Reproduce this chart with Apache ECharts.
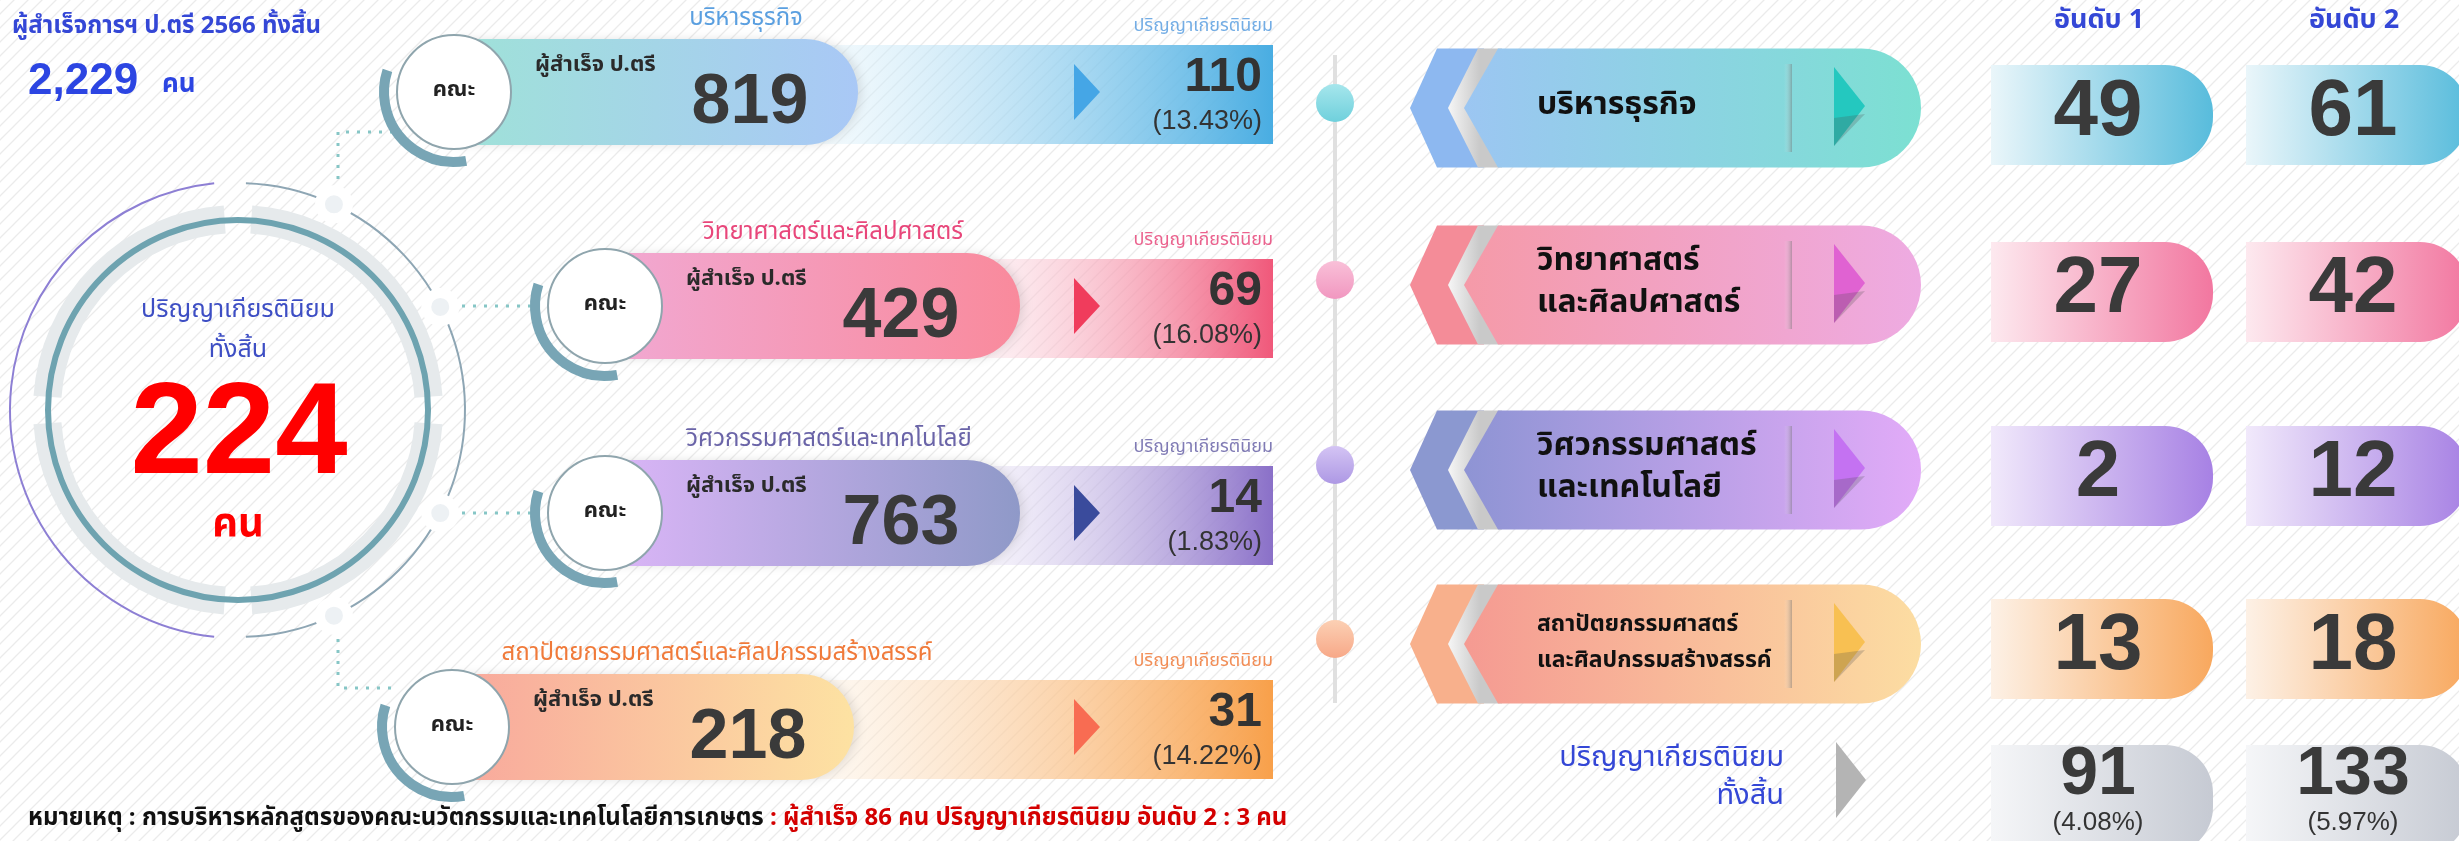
<!DOCTYPE html>
<html lang="th">
  <head>
    <meta charset="UTF-8" />
    <title>ปริญญาเกียรตินิยม 2566</title>
    <style>
      html, body { margin: 0; padding: 0; background: #fff; }
      #main { width: 2459px; height: 841px; }
    </style>
  </head>
  <body>
    <div id="main"></div>
    <script src="https://cdn.jsdelivr.net/npm/echarts@6/dist/echarts.min.js"></script>
    <script>
      // ---- data ----
      const faculties = ['บริหารธุรกิจ', 'วิทยาศาสตร์และศิลปศาสตร์', 'วิศวกรรมศาสตร์และเทคโนโลยี', 'สถาปัตยกรรมศาสตร์และศิลปกรรมสร้างสรรค์']
      const facultyTags = ['บริหารธุรกิจ', 'วิทยาศาสตร์\nและศิลปศาสตร์', 'วิศวกรรมศาสตร์\nและเทคโนโลยี', 'สถาปัตยกรรมศาสตร์\nและศิลปกรรมสร้างสรรค์']
      const graduates = [819, 429, 763, 218]
      const honors = [110, 69, 14, 31]
      const honorsPct = ['13.43%', '16.08%', '1.83%', '14.22%']
      const rank1 = [49, 27, 2, 13]
      const rank2 = [61, 42, 12, 18]
      const rankHeaders = ['อันดับ 1', 'อันดับ 2']
      const rankTotals = [91, 133]
      const rankTotalPct = ['4.08%', '5.97%']
      const totalGraduates = 2229
      const totalHonors = 224
      const noteText = ['หมายเหตุ : การบริหารหลักสูตรของคณะนวัตกรรมและเทคโนโลยีการเกษตร', ' : ผู้สำเร็จ 86 คน ปริญญาเกียรตินิยม อันดับ 2 : 3 คน']

      // ---- layout (pixel space, axes map 1:1) ----
      const W = 2459, H = 841
      const barRowY = [92, 306, 513, 727]
      const barCircleX = [454, 605, 605, 452]
      const barPillEnd = [858, 1020, 1020, 854]
      const barLabelX = [746, 833, 829, 717]
      const tagRowY = [108, 285, 470, 644]
      const boxRowY = [115, 292, 476, 649, 795]
      const boxColX = [1991, 2246]

      const TH = '"Noto Sans Thai", "Noto Sans", "DejaVu Sans", sans-serif'
      const NUM = '"Liberation Sans", Arial, sans-serif'
      const BLUE = '#3447d6'
      const D = Math.PI / 180

      const barColors = [
        { pill: ['#9fe2d8', '#a9c8f6'], rect: ['rgba(236,248,253,0.4)', '#49ade2'], arrow: '#45a6e6', label: '#5a9fe0' },
        { pill: ['#f1a9d3', '#f98a9c'], rect: ['rgba(253,236,241,0.4)', '#f0587a'], arrow: '#f03c5c', label: '#e8467a' },
        { pill: ['#dcb6f8', '#8f99c8'], rect: ['rgba(243,239,251,0.4)', '#8a70c8'], arrow: '#3a4b9c', label: '#6a64a8' },
        { pill: ['#f8a79c', '#fde2a2'], rect: ['rgba(253,244,232,0.4)', '#f8a04a'], arrow: '#f86c52', label: '#f07a3a' }
      ]
      const tagColors = [
        { chev: '#8db8f0', pill: ['#9cc6f2', '#7ce0d2'], tri: '#24c8bf', dot: ['#a6e6ec', '#6fd0dc'] },
        { chev: '#f48c98', pill: ['#f59aa8', '#eeabe2'], tri: '#e062d2', dot: ['#f9c0d8', '#f197c0'] },
        { chev: '#8b98d0', pill: ['#8e94d4', '#e2abf8'], tri: '#c472f2', dot: ['#d4c4f4', '#ad98e4'] },
        { chev: '#f8b08c', pill: ['#f59a92', '#fcdda2'], tri: '#f8c052', dot: ['#fcd0b4', '#f7a888'] }
      ]
      const boxColors = [
        ['#eaf6fa', '#58bcdc'],
        ['#fde9ef', '#f277a0'],
        ['#f1e9fb', '#a781e4'],
        ['#fdf1e6', '#f8a85e'],
        ['#f5f6f8', '#c6cad3']
      ]

      const lg = (x1, x2, c) =>
        new echarts.graphic.LinearGradient(x1, 0, x2, 0, [{ offset: 0, color: c[0] }, { offset: 1, color: c[1] }], true)

      // pill with rounded right end, optional pointed left notch
      function pill(xL, xR, cy, h, notch) {
        const r = h / 2, pts = []
        if (notch) pts.push([xL, cy])
        pts.push([xL + notch, cy - r])
        for (let k = 0; k <= 24; k++) {
          const a = -Math.PI / 2 + (Math.PI * k) / 24
          pts.push([xR - r + r * Math.cos(a), cy + r * Math.sin(a)])
        }
        pts.push([xL + notch, cy + r])
        return pts
      }

      const txt = (text, x, y, o) => ({
        type: 'text',
        style: Object.assign({ text, x, y, fill: '#333', fontFamily: TH, fontSize: 20, align: 'left', verticalAlign: 'middle' }, o)
      })

      // ---- middle bars ----
      function renderBar(params, api) {
        const i = api.value(0)
        const [cx, cy] = api.coord([barCircleX[i], barRowY[i]])
        const endX = api.coord([barPillEnd[i], 0])[0]
        const rightX = api.coord([1273, 0])[0]
        const c = barColors[i]
        return {
          type: 'group',
          children: [
            { type: 'rect', shape: { x: endX - 60, y: cy - 47, width: rightX - endX + 60, height: 99 }, style: { fill: lg(endX - 60, rightX, c.rect) } },
            { type: 'polygon', shape: { points: pill(cx, endX, cy, 106, 0) }, style: { fill: lg(cx, endX, c.pill), shadowBlur: 10, shadowColor: 'rgba(0,0,0,0.10)', shadowOffsetX: 4 } },
            { type: 'arc', shape: { cx, cy, r: 70, startAngle: 80 * D, endAngle: 198 * D, clockwise: true }, style: { stroke: '#78a5b5', lineWidth: 10, fill: 'none' } },
            { type: 'circle', shape: { cx, cy, r: 57 }, style: { fill: '#fff', stroke: '#8fa5ad', lineWidth: 2 } },
            txt('คณะ', cx, cy, { align: 'center', fontSize: 22, fontWeight: 'bold', fill: '#222' }),
            txt(faculties[i], barLabelX[i], cy - 72, { align: 'center', fontSize: 24, fill: c.label }),
            txt('ปริญญาเกียรตินิยม', rightX, cy - 65, { align: 'right', fontSize: 18, fill: c.label, opacity: 0.85 }),
            txt('ผู้สำเร็จ ป.ตรี', cx + 81, cy - 25, { fontSize: 22, fontWeight: 'bold', fill: '#2a2a2a' }),
            txt(String(api.value(1)), cx + 296, cy + 12, { align: 'center', fontFamily: NUM, fontSize: 70, fontWeight: 'bold', fill: '#3a3a3a' }),
            { type: 'polygon', shape: { points: [[1074, cy - 28], [1100, cy], [1074, cy + 28]] }, style: { fill: c.arrow } },
            txt(String(api.value(2)), 1262, cy - 14, { align: 'right', fontFamily: NUM, fontSize: 48, fontWeight: 'bold', fill: '#333' }),
            txt('(' + honorsPct[i] + ')', 1262, cy + 30, { align: 'right', fontFamily: NUM, fontSize: 27, fill: '#333' })
          ]
        }
      }

      // ---- right faculty tags ----
      function renderTag(params, api) {
        const i = api.value(0)
        const [, cy] = api.coord([0, tagRowY[i]])
        const c = tagColors[i]
        const h = 119, top = cy - h / 2, bot = cy + h / 2
        const small = i === 3
        return {
          type: 'group',
          children: [
            { type: 'circle', shape: { cx: 1335, cy: cy - 5, r: 19 }, style: { fill: new echarts.graphic.LinearGradient(0, 0, 0, 1, [{ offset: 0, color: c.dot[0] }, { offset: 1, color: c.dot[1] }]) } },
            { type: 'polygon', shape: { points: [[1410, cy], [1437, top], [1484, top], [1484, bot], [1437, bot]] }, style: { fill: c.chev } },
            { type: 'polygon', shape: { points: [[1448, cy], [1478, top], [1502, top], [1502, bot], [1478, bot]] }, style: { fill: lg(1448, 1480, ['#f6f6f6', '#c9c9c9']) } },
            { type: 'polygon', shape: { points: pill(1464, 1921, cy, h, 34) }, style: { fill: lg(1464, 1921, c.pill) } },
            { type: 'rect', shape: { x: 1784, y: cy - 44, width: 8, height: 88 }, style: { fill: lg(1784, 1792, ['rgba(255,255,255,0)', 'rgba(110,110,110,0.45)']) } },
            { type: 'polygon', shape: { points: [[1834, cy - 41], [1865, cy - 2], [1834, cy + 38]] }, style: { fill: c.tri } },
            { type: 'polygon', shape: { points: [[1834, cy + 10], [1865, cy + 6], [1834, cy + 38]] }, style: { fill: 'rgba(80,80,80,0.25)' } },
            txt(facultyTags[i], 1537, cy, { fontSize: small ? 23 : 32, lineHeight: small ? 36 : 42, fontWeight: 'bold', fill: '#111' })
          ]
        }
      }

      // ---- rank boxes ----
      function renderBox(params, api) {
        const row = api.value(0), col = api.value(1)
        const [x, cy] = api.coord([boxColX[col], boxRowY[row]])
        const isTotal = row === 4
        const hgt = isTotal ? 110 : 100
        const children = [
          { type: 'rect', shape: { x, y: cy - 50, width: 222, height: hgt, r: [0, 48, 48, 0] }, style: { fill: lg(x, x + 222, boxColors[row]) } }
        ]
        if (isTotal) {
          children.push(txt(String(api.value(2)), x + 107, cy - 20, { align: 'center', fontFamily: NUM, fontSize: 68, fontWeight: 'bold', fill: '#3a3a3a' }))
          children.push(txt('(' + rankTotalPct[col] + ')', x + 107, cy + 28, { align: 'center', fontFamily: NUM, fontSize: 26, fill: '#333' }))
        } else {
          children.push(txt(String(api.value(2)), x + 107, cy - 2, { align: 'center', fontFamily: NUM, fontSize: 80, fontWeight: 'bold', fill: '#3a3a3a' }))
        }
        return { type: 'group', children }
      }

      const boxData = []
      rank1.forEach((v, i) => boxData.push([i, 0, v]))
      rank2.forEach((v, i) => boxData.push([i, 1, v]))
      rankTotals.forEach((v, c) => boxData.push([4, c, v]))

      // ---- background stripes ----
      const pat = document.createElement('canvas')
      pat.width = pat.height = 14
      const pc = pat.getContext('2d')
      pc.fillStyle = '#ffffff'
      pc.fillRect(0, 0, 14, 14)
      pc.strokeStyle = '#ebebeb'
      pc.lineWidth = 1.3
      pc.beginPath()
      pc.moveTo(-2, 16); pc.lineTo(16, -2)
      pc.moveTo(-2, 2); pc.lineTo(2, -2)
      pc.moveTo(12, 16); pc.lineTo(16, 12)
      pc.stroke()

      // ---- static decoration: big circle, connectors ----
      const CX = 238, CY = 410
      const nodeAngles = [-65, -27, 27, 65]
      const deco = [
        { type: 'rect', shape: { x: 0, y: 0, width: W, height: H }, style: { fill: { image: pat, repeat: 'repeat' } }, z: -10 },
        { type: 'line', shape: { x1: 1335, y1: 55, x2: 1335, y2: 703 }, style: { stroke: '#e0e0e0', lineWidth: 4 }, z: 1 }
      ]
      // gray band with cross gaps
      for (let q = 0; q < 4; q++) {
        deco.push({ type: 'arc', shape: { cx: CX, cy: CY, r: 191, startAngle: (q * 90 + 4) * D, endAngle: (q * 90 + 86) * D }, style: { stroke: '#e6eaec', lineWidth: 28, fill: 'none' }, z: 1 })
      }
      deco.push({ type: 'circle', shape: { cx: CX, cy: CY, r: 190 }, style: { stroke: '#6ea3b0', lineWidth: 6, fill: 'none' }, z: 1 })
      deco.push({ type: 'arc', shape: { cx: CX, cy: CY, r: 228, startAngle: 96 * D, endAngle: 264 * D }, style: { stroke: '#8d7fd4', lineWidth: 2, fill: 'none' }, z: 1 })
      deco.push({ type: 'arc', shape: { cx: CX, cy: CY, r: 227, startAngle: -88 * D, endAngle: 88 * D }, style: { stroke: '#8ea6b4', lineWidth: 2, fill: 'none' }, z: 1 })
      nodeAngles.forEach(a => {
        deco.push({ type: 'circle', shape: { cx: CX + 227 * Math.cos(a * D), cy: CY + 227 * Math.sin(a * D), r: 14 }, style: { fill: '#edf1f4', stroke: '#fff', lineWidth: 10 }, z: 2 })
      })
      const dotted = { stroke: '#86c6c6', lineWidth: 3, lineDash: [3, 8] }
      deco.push(
        { type: 'polyline', shape: { points: [[338, 190], [338, 132], [392, 132]] }, style: dotted, z: 1 },
        { type: 'polyline', shape: { points: [[338, 628], [338, 688], [392, 688]] }, style: dotted, z: 1 },
        { type: 'line', shape: { x1: 462, y1: 306, x2: 540, y2: 306 }, style: dotted, z: 1 },
        { type: 'line', shape: { x1: 462, y1: 513, x2: 540, y2: 513 }, style: dotted, z: 1 }
      )
      const tx = (text, x, y, o) => Object.assign({ type: 'text', z: 5, style: Object.assign({ text, x, y, fill: BLUE, fontFamily: TH, fontSize: 22, align: 'left', verticalAlign: 'middle' }, o) })
      deco.push(
        tx('ปริญญาเกียรตินิยม', CX, 312, { align: 'center', fontSize: 25, fill: '#3d4ec4' }),
        tx('ทั้งสิ้น', CX, 352, { align: 'center', fontSize: 25, fill: '#3d4ec4' }),
        tx(String(totalHonors), CX + 1, 437, { align: 'center', fontFamily: NUM, fontSize: 130, fontWeight: 'bold', fill: '#ff0000' }),
        tx('คน', CX, 528, { align: 'center', fontSize: 40, fontWeight: 'bold', fill: '#ff0000' }),
        tx('ผู้สำเร็จการฯ ป.ตรี 2566 ทั้งสิ้น', 12, 28, { fontSize: 24, fontWeight: 'bold', fill: '#3447d6' }),
        tx(totalGraduates.toLocaleString('en-US'), 28, 82, { fontFamily: NUM, fontSize: 44, fontWeight: 'bold', fill: '#2c45e2' }),
        tx('คน', 162, 87, { fontSize: 26, fontWeight: 'bold', fill: '#2c45e2' }),
        tx(rankHeaders[0], 2099, 23, { align: 'center', fontSize: 27, fontWeight: 'bold' }),
        tx(rankHeaders[1], 2354, 23, { align: 'center', fontSize: 27, fontWeight: 'bold' }),
        tx('ปริญญาเกียรตินิยม', 1784, 760, { align: 'right', fontSize: 29 }),
        tx('ทั้งสิ้น', 1784, 798, { align: 'right', fontSize: 29 }),
        { type: 'polygon', z: 5, shape: { points: [[1836, 742], [1866, 780], [1836, 818]] }, style: { fill: '#b4b4b4' } },
        {
          type: 'text', z: 5,
          style: {
            text: '{a|' + noteText[0] + '}{b|' + noteText[1] + '}',
            x: 28, y: 820, verticalAlign: 'middle',
            rich: {
              a: { fontFamily: TH, fontSize: 24, fontWeight: 'bold', fill: '#111' },
              b: { fontFamily: TH, fontSize: 24, fontWeight: 'bold', fill: '#d40000' }
            }
          }
        }
      )

      const myChart = echarts.init(document.getElementById('main'))
      myChart.setOption({
        animation: false,
        backgroundColor: '#fff',
        grid: { left: 0, right: 0, top: 0, bottom: 0 },
        xAxis: { type: 'value', min: 0, max: W, show: false },
        yAxis: { type: 'value', min: 0, max: H, inverse: true, show: false },
        graphic: { elements: deco },
        series: [
          { type: 'custom', name: 'bars', clip: false, z: 3, renderItem: renderBar, data: faculties.map((f, i) => [i, graduates[i], honors[i]]) },
          { type: 'custom', name: 'tags', clip: false, z: 3, renderItem: renderTag, data: facultyTags.map((f, i) => [i]) },
          { type: 'custom', name: 'ranks', clip: false, z: 3, renderItem: renderBox, data: boxData }
        ]
      })
    </script>
  </body>
</html>
